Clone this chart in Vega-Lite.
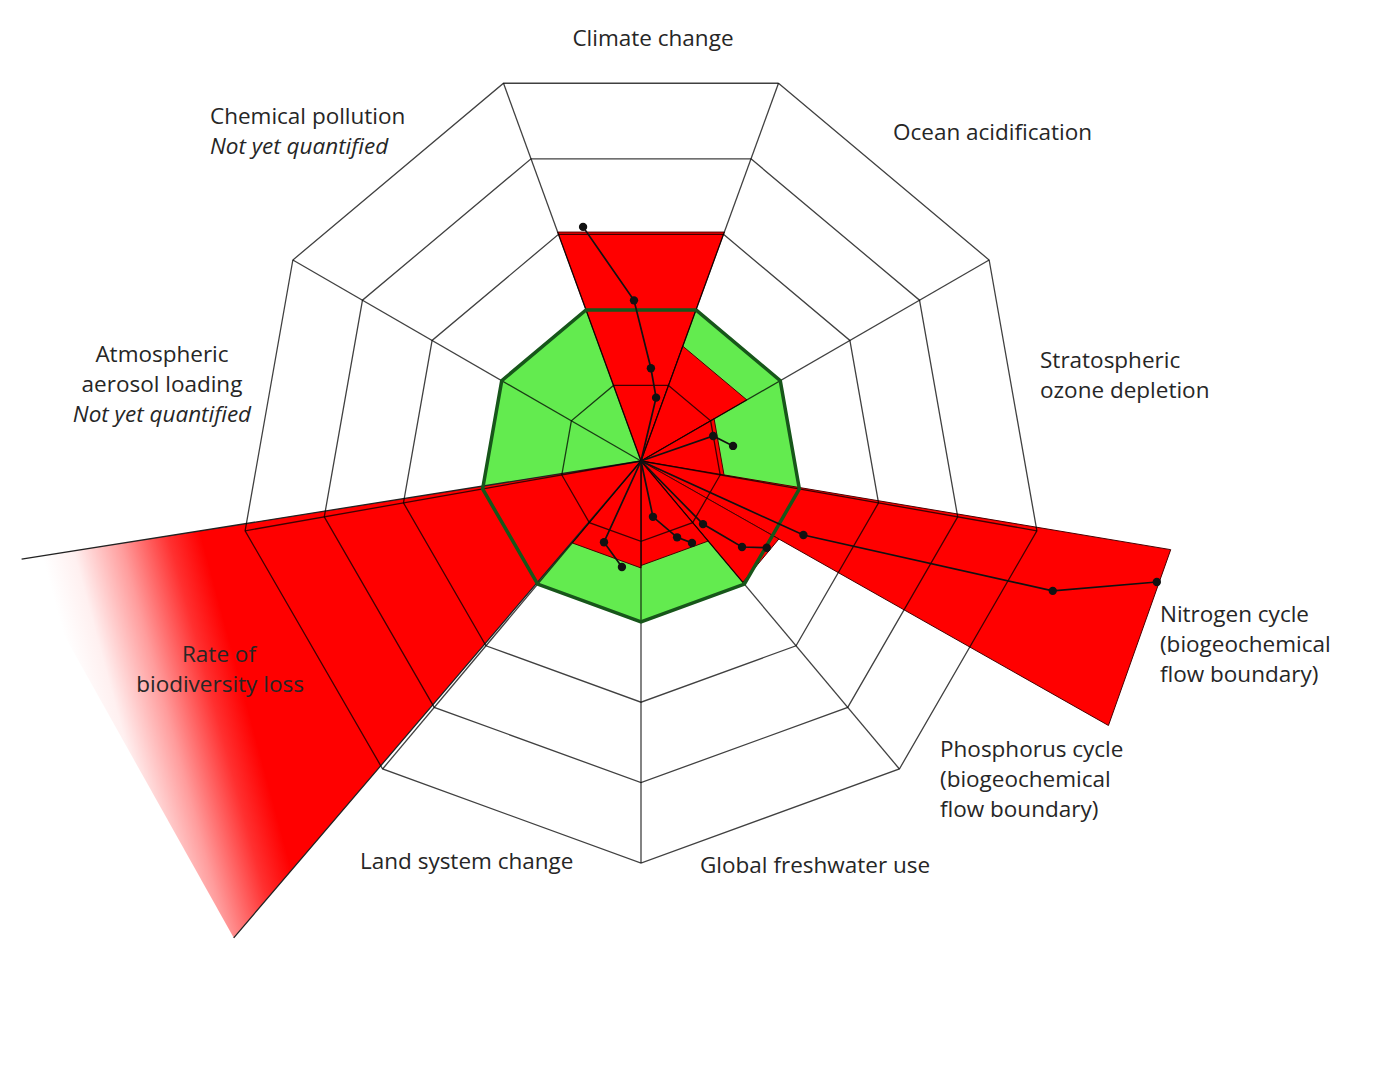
{
"$schema":"https://vega.github.io/schema/vega-lite/v6.json",
"width":1384,"height":1087,"padding":0,
"autosize":{"type":"fit","contains":"padding"},
"background":"white",
"config":{"view":{"stroke":null}},
"datasets":{
"geo":[
{"kind":"ring","g":"r1","o":0,"a":20,"r":1},{"kind":"ring","g":"r1","o":1,"a":60,"r":1},{"kind":"ring","g":"r1","o":2,"a":100,"r":1},{"kind":"ring","g":"r1","o":3,"a":140,"r":1},{"kind":"ring","g":"r1","o":4,"a":180,"r":1},{"kind":"ring","g":"r1","o":5,"a":220,"r":1},{"kind":"ring","g":"r1","o":6,"a":260,"r":1},{"kind":"ring","g":"r1","o":7,"a":300,"r":1},{"kind":"ring","g":"r1","o":8,"a":340,"r":1},{"kind":"ring","g":"r1","o":9,"a":380,"r":1},
{"kind":"ring","g":"r2","o":0,"a":20,"r":2},{"kind":"ring","g":"r2","o":1,"a":60,"r":2},{"kind":"ring","g":"r2","o":2,"a":100,"r":2},{"kind":"ring","g":"r2","o":3,"a":140,"r":2},{"kind":"ring","g":"r2","o":4,"a":180,"r":2},{"kind":"ring","g":"r2","o":5,"a":220,"r":2},{"kind":"ring","g":"r2","o":6,"a":260,"r":2},{"kind":"ring","g":"r2","o":7,"a":300,"r":2},{"kind":"ring","g":"r2","o":8,"a":340,"r":2},{"kind":"ring","g":"r2","o":9,"a":380,"r":2},
{"kind":"ring","g":"r3","o":0,"a":20,"r":3},{"kind":"ring","g":"r3","o":1,"a":60,"r":3},{"kind":"ring","g":"r3","o":2,"a":100,"r":3},{"kind":"ring","g":"r3","o":3,"a":140,"r":3},{"kind":"ring","g":"r3","o":4,"a":180,"r":3},{"kind":"ring","g":"r3","o":5,"a":220,"r":3},{"kind":"ring","g":"r3","o":6,"a":260,"r":3},{"kind":"ring","g":"r3","o":7,"a":300,"r":3},{"kind":"ring","g":"r3","o":8,"a":340,"r":3},{"kind":"ring","g":"r3","o":9,"a":380,"r":3},
{"kind":"ring","g":"r4","o":0,"a":20,"r":4},{"kind":"ring","g":"r4","o":1,"a":60,"r":4},{"kind":"ring","g":"r4","o":2,"a":100,"r":4},{"kind":"ring","g":"r4","o":3,"a":140,"r":4},{"kind":"ring","g":"r4","o":4,"a":180,"r":4},{"kind":"ring","g":"r4","o":5,"a":220,"r":4},{"kind":"ring","g":"r4","o":6,"a":260,"r":4},{"kind":"ring","g":"r4","o":7,"a":300,"r":4},{"kind":"ring","g":"r4","o":8,"a":340,"r":4},{"kind":"ring","g":"r4","o":9,"a":380,"r":4},
{"kind":"ring","g":"r5","o":0,"a":20,"r":5},{"kind":"ring","g":"r5","o":1,"a":60,"r":5},{"kind":"ring","g":"r5","o":2,"a":100,"r":5},{"kind":"ring","g":"r5","o":3,"a":140,"r":5},{"kind":"ring","g":"r5","o":4,"a":180,"r":5},{"kind":"ring","g":"r5","o":5,"a":220,"r":5},{"kind":"ring","g":"r5","o":6,"a":260,"r":5},{"kind":"ring","g":"r5","o":7,"a":300,"r":5},{"kind":"ring","g":"r5","o":8,"a":340,"r":5},{"kind":"ring","g":"r5","o":9,"a":380,"r":5},
{"kind":"spoke","g":"s1","o":0,"a":20,"r":5},{"kind":"spoke","g":"s2","o":0,"a":60,"r":5},{"kind":"spoke","g":"s3","o":0,"a":100,"r":5},{"kind":"spoke","g":"s4","o":0,"a":140,"r":5},{"kind":"spoke","g":"s5","o":0,"a":180,"r":5},{"kind":"spoke","g":"s6","o":0,"a":220,"r":5},{"kind":"spoke","g":"s7","o":0,"a":260,"r":5},{"kind":"spoke","g":"s8","o":0,"a":300,"r":5},{"kind":"spoke","g":"s9","o":0,"a":340,"r":5},
{"kind":"wedge","g":"Climate change","o":0,"a":-20,"r":3.03},{"kind":"wedge","g":"Climate change","o":1,"a":0,"r":0},{"kind":"wedge","g":"Climate change","o":2,"a":20,"r":3.03},{"kind":"wedge","g":"Climate change","o":3,"a":-20,"r":3.03},
{"kind":"wedge","g":"Ocean acidification","o":0,"a":20,"r":1.52},{"kind":"wedge","g":"Ocean acidification","o":1,"a":0,"r":0},{"kind":"wedge","g":"Ocean acidification","o":2,"a":60,"r":1.52},{"kind":"wedge","g":"Ocean acidification","o":3,"a":20,"r":1.52},
{"kind":"wedge","g":"Ozone","o":0,"a":60,"r":1.05},{"kind":"wedge","g":"Ozone","o":1,"a":0,"r":0},{"kind":"wedge","g":"Ozone","o":2,"a":100,"r":1.05},{"kind":"wedge","g":"Ozone","o":3,"a":60,"r":1.05},
{"kind":"wedge","g":"Nitrogen","o":0,"a":99.5,"r":6.68},{"kind":"wedge","g":"Nitrogen","o":1,"a":0,"r":0},{"kind":"wedge","g":"Nitrogen","o":2,"a":119.5,"r":6.68},{"kind":"wedge","g":"Nitrogen","o":3,"a":99.5,"r":6.68},
{"kind":"wedge","g":"Phosphorus","o":0,"a":119.5,"r":1.97},{"kind":"wedge","g":"Phosphorus","o":1,"a":0,"r":0},{"kind":"wedge","g":"Phosphorus","o":2,"a":140,"r":1.97},{"kind":"wedge","g":"Phosphorus","o":3,"a":119.5,"r":1.97},
{"kind":"wedge","g":"Freshwater","o":0,"a":140,"r":1.3},{"kind":"wedge","g":"Freshwater","o":1,"a":0,"r":0},{"kind":"wedge","g":"Freshwater","o":2,"a":180,"r":1.3},{"kind":"wedge","g":"Freshwater","o":3,"a":140,"r":1.3},
{"kind":"wedge","g":"Land","o":0,"a":180,"r":1.33},{"kind":"wedge","g":"Land","o":1,"a":0,"r":0},{"kind":"wedge","g":"Land","o":2,"a":220,"r":1.33},{"kind":"wedge","g":"Land","o":3,"a":180,"r":1.33},
{"kind":"bio","g":"Biodiversity","o":0,"a":261,"r":7.8},{"kind":"bio","g":"Biodiversity","o":1,"a":0,"r":0},{"kind":"bio","g":"Biodiversity","o":2,"a":220.5,"r":7.8},
{"kind":"traj","g":"climate","o":0,"a":0,"r":0},{"kind":"traj","g":"climate","o":1,"a":13.4,"r":0.81},{"kind":"traj","g":"climate","o":2,"a":6.1,"r":1.16},{"kind":"traj","g":"climate","o":3,"a":-2.5,"r":2.0},{"kind":"traj","g":"climate","o":4,"a":-13.9,"r":3.0},
{"kind":"traj","g":"ozone","o":0,"a":0,"r":0},{"kind":"traj","g":"ozone","o":1,"a":70.9,"r":0.95},{"kind":"traj","g":"ozone","o":2,"a":80.7,"r":1.16},
{"kind":"traj","g":"nitrogen","o":0,"a":0,"r":0},{"kind":"traj","g":"nitrogen","o":1,"a":114.5,"r":2.22},{"kind":"traj","g":"nitrogen","o":2,"a":107.5,"r":5.37},{"kind":"traj","g":"nitrogen","o":3,"a":103.2,"r":6.59},
{"kind":"traj","g":"phosphorus","o":0,"a":0,"r":0},{"kind":"traj","g":"phosphorus","o":1,"a":135.5,"r":1.1},{"kind":"traj","g":"phosphorus","o":2,"a":130.4,"r":1.65},{"kind":"traj","g":"phosphorus","o":3,"a":124.6,"r":1.9},
{"kind":"traj","g":"freshwater","o":0,"a":0,"r":0},{"kind":"traj","g":"freshwater","o":1,"a":167.9,"r":0.71},{"kind":"traj","g":"freshwater","o":2,"a":154.7,"r":1.05},{"kind":"traj","g":"freshwater","o":3,"a":148.1,"r":1.2},
{"kind":"traj","g":"land","o":0,"a":0,"r":0},{"kind":"traj","g":"land","o":1,"a":204.5,"r":1.11},{"kind":"traj","g":"land","o":2,"a":190.2,"r":1.34}
],
"labels":[
{"text":"Climate change","x":0.149,"y":5.249,"grp":"c"},
{"text":"Ocean acidification","x":3.134,"y":4.08,"grp":"l"},
{"text":"Stratospheric","x":4.963,"y":1.244,"grp":"l"},
{"text":"ozone depletion","x":4.963,"y":0.871,"grp":"l"},
{"text":"Nitrogen cycle","x":6.455,"y":-1.915,"grp":"l"},
{"text":"(biogeochemical","x":6.455,"y":-2.289,"grp":"l"},
{"text":"flow boundary)","x":6.455,"y":-2.662,"grp":"l"},
{"text":"Phosphorus cycle","x":3.719,"y":-3.595,"grp":"l"},
{"text":"(biogeochemical","x":3.719,"y":-3.968,"grp":"l"},
{"text":"flow boundary)","x":3.719,"y":-4.341,"grp":"l"},
{"text":"Global freshwater use","x":0.734,"y":-5.037,"grp":"l"},
{"text":"Land system change","x":-3.495,"y":-4.988,"grp":"l"},
{"text":"Rate of","x":-5.249,"y":-2.413,"grp":"c"},
{"text":"biodiversity loss","x":-5.236,"y":-2.786,"grp":"c"},
{"text":"Atmospheric","x":-5.958,"y":1.318,"grp":"c"},
{"text":"aerosol loading","x":-5.958,"y":0.945,"grp":"c"},
{"text":"Not yet quantified","x":-5.958,"y":0.572,"grp":"ci"},
{"text":"Chemical pollution","x":-5.361,"y":4.279,"grp":"l"},
{"text":"Not yet quantified","x":-5.361,"y":3.905,"grp":"li"}
]
},
"encoding":{
"x":{"field":"x","type":"quantitative","scale":{"domain":[-7.9726,9.2413],"nice":false,"zero":false},"axis":null},
"y":{"field":"y","type":"quantitative","scale":{"domain":[-7.786,5.734],"nice":false,"zero":false},"axis":null}
},
"layer":[
{"data":{"name":"geo"},
 "transform":[
  {"calculate":"datum.r*sin(datum.a*PI/180)","as":"x"},
  {"calculate":"datum.r*cos(datum.a*PI/180)","as":"y"}
 ],
 "layer":[
  {"transform":[{"filter":"datum.g=='r2'"}],
   "mark":{"type":"line","fill":"#63eb4f","strokeWidth":0},
   "encoding":{"order":{"field":"o","type":"quantitative"}}},
  {"transform":[{"filter":"datum.kind=='wedge'"}],
   "mark":{"type":"line","fill":"#ff0000","stroke":"#4a0000","strokeWidth":1},
   "encoding":{"detail":{"field":"g"},"order":{"field":"o","type":"quantitative"}}},
  {"transform":[{"filter":"datum.kind=='bio'"}],
   "mark":{"type":"line","stroke":"#222222","strokeWidth":1.3,
    "fill":{"gradient":"linear","x1":0.035,"y1":0.208,"x2":0.2895,"y2":0.155,
     "stops":[{"offset":0,"color":"#ffffff"},{"offset":0.2,"color":"#fff0f0"},{"offset":0.5,"color":"#ff9c9c"},{"offset":0.8,"color":"#ff3030"},{"offset":1,"color":"#ff0000"}]}},
   "encoding":{"order":{"field":"o","type":"quantitative"}}},
  {"transform":[{"filter":"datum.kind=='ring'"}],
   "mark":{"type":"line","stroke":"#000000","strokeOpacity":0.75,"strokeWidth":1.3},
   "encoding":{"detail":{"field":"g"},"order":{"field":"o","type":"quantitative"}}},
  {"transform":[{"filter":"datum.kind=='spoke'"}],
   "mark":{"type":"rule","stroke":"#000000","strokeOpacity":0.75,"strokeWidth":1.3},
   "encoding":{"x":{"datum":0,"type":"quantitative"},"y":{"datum":0,"type":"quantitative"},
    "x2":{"field":"x"},"y2":{"field":"y"}}},
  {"transform":[{"filter":"datum.g=='r2'"}],
   "mark":{"type":"line","stroke":"#17561a","strokeWidth":3.5},
   "encoding":{"order":{"field":"o","type":"quantitative"}}},
  {"transform":[{"filter":"datum.kind=='traj'"}],
   "mark":{"type":"line","stroke":"#111111","strokeWidth":1.7},
   "encoding":{"detail":{"field":"g"},"order":{"field":"o","type":"quantitative"}}},
  {"transform":[{"filter":"datum.kind=='traj' && datum.r>0"}],
   "mark":{"type":"circle","size":70,"color":"#111111","opacity":1}}
 ]},
{"data":{"name":"labels"},
 "layer":[
  {"transform":[{"filter":"datum.grp=='c'"}],
   "mark":{"type":"text","align":"center","baseline":"middle","font":"Open Sans","fontSize":22.5,"color":"#262626"},
   "encoding":{"text":{"field":"text"}}},
  {"transform":[{"filter":"datum.grp=='ci'"}],
   "mark":{"type":"text","align":"center","baseline":"middle","font":"Open Sans","fontSize":22.5,"fontStyle":"italic","color":"#262626"},
   "encoding":{"text":{"field":"text"}}},
  {"transform":[{"filter":"datum.grp=='l'"}],
   "mark":{"type":"text","align":"left","baseline":"middle","font":"Open Sans","fontSize":22.5,"color":"#262626"},
   "encoding":{"text":{"field":"text"}}},
  {"transform":[{"filter":"datum.grp=='li'"}],
   "mark":{"type":"text","align":"left","baseline":"middle","font":"Open Sans","fontSize":22.5,"fontStyle":"italic","color":"#262626"},
   "encoding":{"text":{"field":"text"}}}
 ]}
]
}
